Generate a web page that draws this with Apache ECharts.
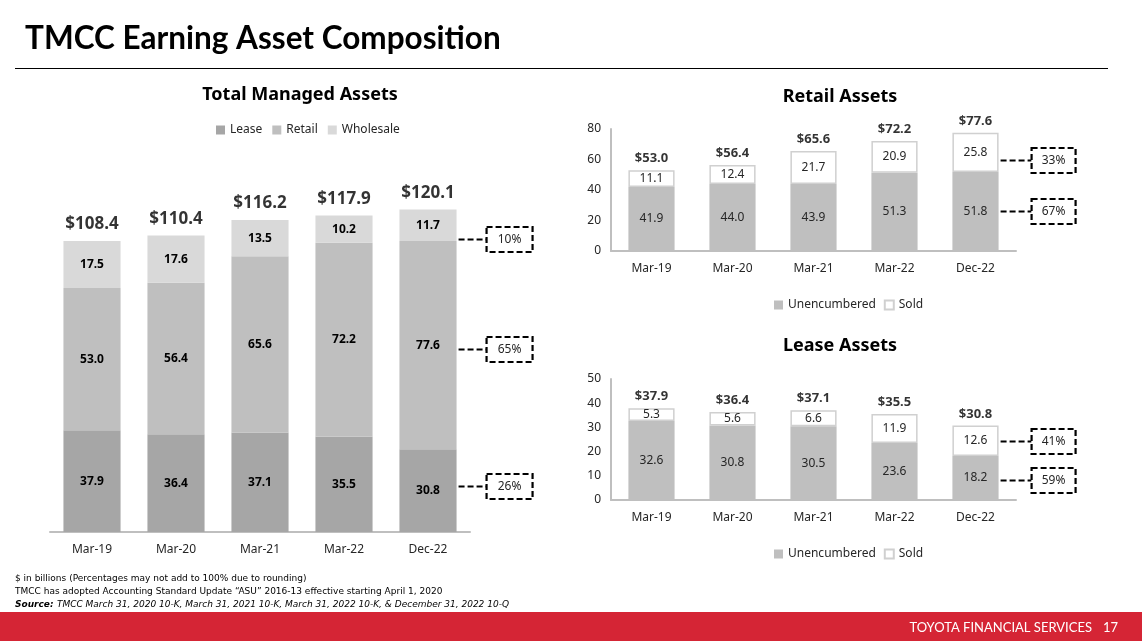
<!DOCTYPE html>
<html><head><meta charset="utf-8">
<script src="https://cdn.jsdelivr.net/npm/echarts@6/dist/echarts.min.js"></script>
<style>html,body{margin:0;padding:0;background:#fff}#c{width:1142px;height:641px}</style>
</head><body><div id="c"></div>
<script>
const categories = ['Mar-19','Mar-20','Mar-21','Mar-22','Dec-22'];
const tmaLease = [37.9, 36.4, 37.1, 35.5, 30.8];
const tmaRetail = [53.0, 56.4, 65.6, 72.2, 77.6];
const tmaWholesale = [17.5, 17.6, 13.5, 10.2, 11.7];
const tmaTotal = [108.4, 110.4, 116.2, 117.9, 120.1];
const retailUnencumbered = [41.9, 44.0, 43.9, 51.3, 51.8];
const retailSold = [11.1, 12.4, 21.7, 20.9, 25.8];
const retailTotal = [53.0, 56.4, 65.6, 72.2, 77.6];
const leaseUnencumbered = [32.6, 30.8, 30.5, 23.6, 18.2];
const leaseSold = [5.3, 5.6, 6.6, 11.9, 12.6];
const leaseTotal = [37.9, 36.4, 37.1, 35.5, 30.8];
const retailTicks = [0, 20, 40, 60, 80];
const leaseTicks = [0, 10, 20, 30, 40, 50];
// percentage callouts for the latest period: text and the value level where each callout points
const tmaPctText = ['26%', '65%', '10%'];
const tmaPctLevel = [17, 68, 109];
const retailPctText = ['67%', '33%'];
const retailPctLevel = [26, 60];
const leasePctText = ['59%', '41%'];
const leasePctLevel = [8.3, 24.4];

const FONT = "'Noto Sans', sans-serif";
const HFONT = "Lato, sans-serif";
const C_LEASE = '#a6a6a6', C_RETAIL = '#bfbfbf', C_WHOLE = '#d9d9d9';
const fmt1 = p => Number(p.value).toFixed(1);
const fmtTot = p => '$' + Number(p.value).toFixed(1);

const chart = echarts.init(document.getElementById('c'), null, {renderer: 'canvas'});

function catAxis(gi) {
  return {
    type: 'category', gridIndex: gi, data: categories,
    axisLine: {show: true, lineStyle: {color: '#bfbfbf', width: 2}},
    axisTick: {show: false},
    axisLabel: {color: '#262626', fontFamily: FONT, fontSize: 12, margin: 12}
  };
}
function valAxis(gi, ticks, show) {
  return {
    type: 'value', gridIndex: gi,
    min: ticks[0], max: ticks[ticks.length - 1], interval: ticks[1] - ticks[0],
    axisLine: {show: show, lineStyle: {color: '#bfbfbf', width: 2}},
    axisTick: {show: false},
    splitLine: {show: false},
    axisLabel: {show: show, color: '#262626', fontFamily: FONT, fontSize: 12, margin: 10}
  };
}
function segLabel(bold, size, color) {
  return {show: true, position: 'inside', formatter: fmt1, color: color,
          fontFamily: FONT, fontSize: size, fontWeight: bold ? 'bold' : 'normal'};
}
function totalSeries(gi, data, size, dist) {
  return {
    type: 'scatter', xAxisIndex: gi, yAxisIndex: gi, data: data, symbolSize: 0,
    silent: true, z: 10,
    label: {show: true, position: 'top', distance: dist, formatter: fmtTot,
            color: '#000', fontFamily: FONT, fontWeight: 'bold', fontSize: size}
  };
}
const legendText = {fontFamily: FONT, fontSize: 12, color: '#262626'};

const option = {
  animation: false,
  backgroundColor: '#fff',
  grid: [
    {left: 50, right: 672, top: 183, bottom: 109},
    {left: 611, right: 126, top: 129, bottom: 390},
    {left: 611, right: 126, top: 379, bottom: 141}
  ],
  xAxis: [catAxis(0), catAxis(1), catAxis(2)],
  yAxis: [valAxis(0, [0, 130], false), valAxis(1, retailTicks, true), valAxis(2, leaseTicks, true)],
  legend: [
    {left: 211, top: 119, data: ['Lease', 'Retail', 'Wholesale'], icon: 'rect', itemWidth: 9, itemHeight: 9, itemGap: 10,
     textStyle: legendText, selectedMode: false},
    {left: 769, top: 294, data: ['Unencumbered', 'Sold'], icon: 'rect', itemWidth: 9, itemHeight: 9, itemGap: 8,
     textStyle: legendText, selectedMode: false},
    {left: 769, top: 543, data: ['Unencumbered', 'Sold'], icon: 'rect', itemWidth: 9, itemHeight: 9, itemGap: 8,
     textStyle: legendText, selectedMode: false}
  ],
  series: [
    {name: 'Lease', type: 'bar', stack: 'tma', xAxisIndex: 0, yAxisIndex: 0, data: tmaLease, barWidth: '68%',
     itemStyle: {color: C_LEASE}, label: segLabel(true, 12, '#000')},
    {name: 'Retail', type: 'bar', stack: 'tma', xAxisIndex: 0, yAxisIndex: 0, data: tmaRetail, barWidth: '68%',
     itemStyle: {color: C_RETAIL}, label: segLabel(true, 12, '#000')},
    {name: 'Wholesale', type: 'bar', stack: 'tma', xAxisIndex: 0, yAxisIndex: 0, data: tmaWholesale, barWidth: '68%',
     itemStyle: {color: C_WHOLE}, label: segLabel(true, 12, '#000')},
    totalSeries(0, tmaTotal, 17, 8),
    {name: 'Unencumbered', type: 'bar', stack: 'ret', xAxisIndex: 1, yAxisIndex: 1, data: retailUnencumbered, barWidth: '57%',
     itemStyle: {color: C_RETAIL}, label: segLabel(false, 12, '#262626')},
    {name: 'Sold', type: 'bar', stack: 'ret', xAxisIndex: 1, yAxisIndex: 1, data: retailSold, barWidth: '57%',
     itemStyle: {color: '#fff', borderColor: '#d0d0d0', borderWidth: 1.5}, label: segLabel(false, 12, '#262626')},
    totalSeries(1, retailTotal, 13, 5),
    {name: 'Unencumbered', type: 'bar', stack: 'lea', xAxisIndex: 2, yAxisIndex: 2, data: leaseUnencumbered, barWidth: '57%',
     itemStyle: {color: C_RETAIL}, label: segLabel(false, 12, '#262626')},
    {name: 'Sold', type: 'bar', stack: 'lea', xAxisIndex: 2, yAxisIndex: 2, data: leaseSold, barWidth: '57%',
     itemStyle: {color: '#fff', borderColor: '#d0d0d0', borderWidth: 1.5}, label: segLabel(false, 12, '#262626')},
    totalSeries(2, leaseTotal, 13, 5)
  ]
};
chart.setOption(option);

const graphics = [
  {type: 'text', left: 25, top: 23, style: {text: 'TMCC Earning Asset Composition', fill: '#000',
    font: "bold 31.5px " + HFONT}},
  {type: 'line', shape: {x1: 15, y1: 68.5, x2: 1108, y2: 68.5}, style: {stroke: '#000', lineWidth: 1.2}},
  {type: 'text', x: 300, y: 95, style: {text: 'Total Managed Assets', fill: '#000', font: "bold 18px " + FONT,
    textAlign: 'center', textVerticalAlign: 'middle'}},
  {type: 'text', x: 840, y: 97, style: {text: 'Retail Assets', fill: '#000', font: "bold 18px " + FONT,
    textAlign: 'center', textVerticalAlign: 'middle'}},
  {type: 'text', x: 840, y: 346, style: {text: 'Lease Assets', fill: '#000', font: "bold 18px " + FONT,
    textAlign: 'center', textVerticalAlign: 'middle'}},
  {type: 'text', x: 15, y: 579, style: {text: '$ in billions (Percentages may not add to 100% due to rounding)',
    fill: '#000', font: "9px 'DejaVu Sans'", textVerticalAlign: 'middle'}},
  {type: 'text', x: 15, y: 592, style: {text: 'TMCC has adopted Accounting Standard Update \u201cASU\u201d 2016-13 effective starting April 1, 2020',
    fill: '#000', font: "9px 'DejaVu Sans'", textVerticalAlign: 'middle'}},
  {type: 'text', x: 15, y: 605, style: {
    text: '{b|Source:} {i|TMCC March 31, 2020 10-K, March 31, 2021 10-K, March 31, 2022 10-K, & December 31, 2022 10-Q}',
    rich: {b: {fontFamily: 'DejaVu Sans', fontSize: 9, fontWeight: 'bold', fontStyle: 'italic', fill: '#000'},
           i: {fontFamily: 'DejaVu Sans', fontSize: 9, fontStyle: 'italic', fill: '#000'}},
    textVerticalAlign: 'middle'}},
  {type: 'rect', shape: {x: 0, y: 612, width: 1142, height: 29}, style: {fill: '#d52535'}},
  {type: 'text', x: 1092, y: 628, style: {text: 'TOYOTA FINANCIAL SERVICES', fill: '#fff', font: "13px " + HFONT,
    textAlign: 'right', textVerticalAlign: 'middle'}},
  {type: 'text', x: 1118, y: 628, style: {text: '17', fill: '#fff', font: "13px " + HFONT,
    textAlign: 'right', textVerticalAlign: 'middle'}}
];

function callouts(gi, levels, texts, gapToBox, boxW) {
  const last = categories[categories.length - 1];
  const cx = chart.convertToPixel({xAxisIndex: gi}, last);
  const cx0 = chart.convertToPixel({xAxisIndex: gi}, categories[categories.length - 2]);
  const band = cx - cx0;
  const frac = gi === 0 ? 0.68 : 0.57;
  const barRight = cx + band * frac / 2;
  levels.forEach((lv, i) => {
    const y = Math.round(chart.convertToPixel({yAxisIndex: gi}, lv)) + 0.5;
    const bx = barRight + gapToBox;
    graphics.push({type: 'line', shape: {x1: barRight + 2, y1: y, x2: bx, y2: y},
      style: {stroke: '#000', lineWidth: 2.2, lineDash: [6, 3]}, z: 20});
    graphics.push({type: 'rect', shape: {x: bx, y: y - 12.5, width: boxW, height: 25},
      style: {fill: '#fff', stroke: '#000', lineWidth: 2.2, lineDash: [6, 3]}, z: 20});
    graphics.push({type: 'text', x: bx + boxW / 2, y: y, z: 21,
      style: {text: texts[i], fill: '#262626', font: "12px " + FONT, textAlign: 'center', textVerticalAlign: 'middle'}});
  });
}
callouts(0, tmaPctLevel, tmaPctText, 30, 46);
callouts(1, retailPctLevel, retailPctText, 33, 44);
callouts(2, leasePctLevel, leasePctText, 33, 44);

chart.setOption({graphic: graphics});
</script></body></html>
